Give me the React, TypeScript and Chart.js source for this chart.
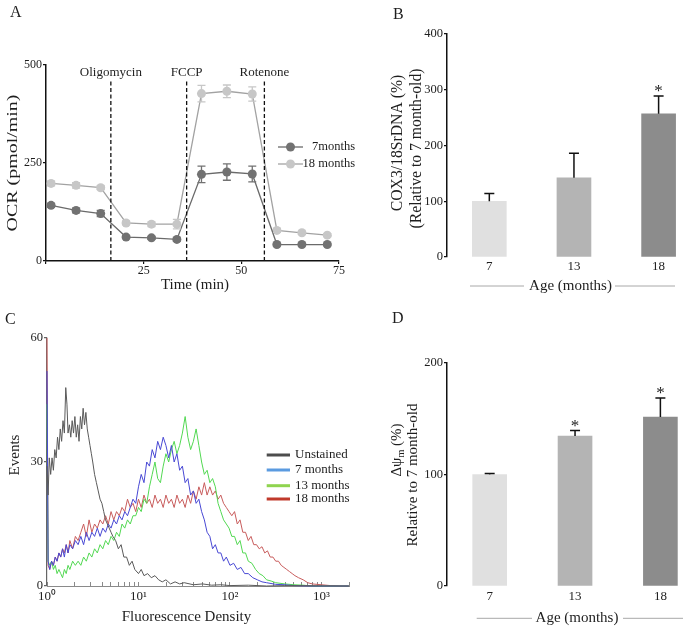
import React, { useEffect, useRef } from 'react';
import { Chart, registerables } from 'chart.js';

Chart.register(...registerables);

const SERIF = '"Liberation Serif", "Times New Roman", Times, serif';
const INK = '#1e1e1e';

// ---------------- Panel A : OCR time course ----------------
const timePoints = [1.3, 7.7, 14, 20.5, 27, 33.5, 39.8, 46.3, 52.8, 59.1, 65.5, 72];
const ocr7Months = [142, 129, 121, 61, 59, 55, 221, 227, 222, 42, 42, 42];
const ocr7MonthsErr = [5, 6, 8, 4, 4, 4, 21, 21, 20, 3, 3, 3];
const ocr18Months = [198, 193, 187, 97, 94, 94, 427, 433, 426, 78, 72, 66];
const ocr18MonthsErr = [6, 7, 5, 5, 6, 12, 21, 16, 18, 5, 4, 4];
const ocrSeriesNames = ['7months', '18 months'];
const injectionTimes = [16.6, 36, 55.9];
const injectionNames = ['Oligomycin', 'FCCP', 'Rotenone'];
const ocrXTicks = [0, 25, 50, 75];
const ocrYTicks = [0, 250, 500];

// ---------------- Panel B : COX3 / 18S rDNA ----------------
const ageCategories = ['7', '13', '18'];
const cox3Values = [100, 142, 257];
const cox3Err = [14, 44, 32];
const cox3Significant = [false, false, true];
const cox3YTicks = [0, 100, 200, 300, 400];

// ---------------- Panel C : TMRM histograms (decade, events) ----------------
const histNames = ['Unstained', '7 months', '13 months', '18 months'];
const unstainedCounts = [
  [0, 29], [0.012, 22], [0.025, 31], [0.04, 27], [0.055, 31], [0.07, 28], [0.085, 33], [0.1, 31],
  [0.115, 36], [0.13, 33], [0.145, 38], [0.16, 35], [0.175, 40], [0.19, 37], [0.205, 48], [0.218, 44],
  [0.23, 37], [0.245, 39], [0.26, 36], [0.275, 40], [0.29, 37], [0.305, 41], [0.32, 36], [0.335, 39],
  [0.35, 35], [0.365, 41], [0.38, 38], [0.395, 43], [0.41, 39], [0.425, 42], [0.44, 38], [0.455, 36],
  [0.47, 34], [0.485, 32], [0.5, 30], [0.52, 27], [0.54, 25], [0.56, 23], [0.58, 21], [0.6, 20],
  [0.62, 18], [0.64, 16], [0.66, 15], [0.68, 14], [0.7, 13], [0.72, 12], [0.75, 11], [0.78, 9],
  [0.81, 10], [0.84, 7], [0.87, 7], [0.9, 5], [0.93, 6], [0.96, 4], [1.0, 3], [1.03, 4],
  [1.06, 2.5], [1.1, 3], [1.14, 2], [1.18, 2.5], [1.22, 1.5], [1.26, 1], [1.3, 1.5], [1.35, 0.5],
  [1.4, 1], [1.45, 0.5], [1.5, 0.8], [1.6, 0.3], [1.7, 0.5], [1.8, 0.2], [1.9, 0.3], [2.0, 0.1],
  [2.2, 0.2], [2.4, 0], [2.6, 0.1], [3.3, 0],
];
const months7Counts = [
  [0, 52], [0.012, 6], [0.03, 4], [0.05, 6], [0.07, 5], [0.09, 7], [0.11, 6], [0.13, 8],
  [0.15, 7], [0.17, 9], [0.19, 7], [0.21, 10], [0.23, 8], [0.25, 10], [0.28, 9], [0.31, 11],
  [0.34, 10], [0.37, 12], [0.4, 10], [0.43, 13], [0.46, 11], [0.49, 13], [0.52, 12], [0.55, 14],
  [0.58, 12], [0.61, 14], [0.64, 13], [0.67, 15], [0.7, 14], [0.73, 16], [0.76, 15], [0.79, 17],
  [0.82, 16], [0.85, 18], [0.88, 17], [0.91, 19], [0.94, 21], [0.97, 20], [1.0, 24], [1.03, 27],
  [1.06, 25], [1.09, 30], [1.12, 29], [1.15, 33], [1.18, 31], [1.21, 35], [1.24, 33], [1.27, 36],
  [1.3, 34], [1.33, 31], [1.36, 34], [1.39, 30], [1.42, 32], [1.45, 28], [1.48, 29], [1.51, 25],
  [1.54, 26], [1.57, 22], [1.6, 23], [1.63, 20], [1.66, 21], [1.69, 18], [1.72, 16], [1.75, 13],
  [1.78, 12], [1.81, 9], [1.84, 10], [1.87, 8], [1.9, 8], [1.93, 6], [1.96, 7], [2.0, 5],
  [2.04, 5.5], [2.08, 4], [2.12, 4.5], [2.16, 3], [2.2, 3], [2.25, 2], [2.3, 1.5], [2.35, 1],
  [2.4, 0.8], [2.5, 0.4], [2.6, 0.3], [2.7, 0.1], [2.9, 0], [3.3, 0],
];
const months13Counts = [
  [0, 44], [0.012, 6], [0.03, 5], [0.05, 6], [0.07, 4], [0.09, 5], [0.11, 3], [0.13, 4],
  [0.15, 3], [0.17, 2], [0.19, 4], [0.21, 3], [0.23, 5], [0.25, 4], [0.28, 6], [0.31, 5],
  [0.34, 6], [0.37, 5], [0.4, 7], [0.43, 6], [0.46, 8], [0.49, 7], [0.52, 9], [0.55, 8],
  [0.58, 10], [0.61, 9], [0.64, 11], [0.67, 10], [0.7, 12], [0.73, 11], [0.76, 13], [0.79, 12],
  [0.82, 15], [0.85, 14], [0.88, 16], [0.91, 15], [0.94, 17], [0.97, 17], [1.0, 19], [1.03, 18],
  [1.06, 21], [1.09, 20], [1.12, 24], [1.15, 27], [1.18, 30], [1.21, 26], [1.24, 25], [1.27, 29],
  [1.3, 32], [1.33, 30], [1.36, 33], [1.39, 35], [1.42, 32], [1.45, 34], [1.48, 37], [1.51, 41],
  [1.54, 36], [1.57, 33], [1.6, 35], [1.63, 38], [1.66, 34], [1.69, 30], [1.72, 27], [1.75, 28],
  [1.78, 25], [1.81, 26], [1.84, 24], [1.87, 20], [1.9, 18], [1.93, 16], [1.96, 15], [1.99, 14],
  [2.02, 12], [2.05, 12], [2.08, 10], [2.11, 11], [2.14, 8], [2.17, 8], [2.2, 6], [2.24, 5.5],
  [2.28, 4], [2.32, 3], [2.36, 2.5], [2.4, 1.5], [2.45, 1.2], [2.5, 0.8], [2.6, 0.5], [2.7, 0.3],
  [2.8, 0.2], [2.9, 0], [3.3, 0],
];
const months18Counts = [
  [0, 60], [0.012, 5], [0.03, 4], [0.05, 6], [0.07, 5], [0.09, 7], [0.11, 6], [0.13, 8],
  [0.15, 7], [0.17, 9], [0.19, 8], [0.21, 10], [0.23, 8], [0.25, 11], [0.28, 9], [0.31, 12],
  [0.34, 11], [0.37, 13], [0.4, 15], [0.43, 12], [0.46, 16], [0.49, 13], [0.52, 15], [0.55, 14],
  [0.58, 16], [0.61, 15], [0.64, 17], [0.67, 15], [0.7, 18], [0.73, 16], [0.76, 18], [0.79, 17],
  [0.82, 19], [0.85, 18], [0.88, 21], [0.91, 19], [0.94, 20], [0.97, 18], [1.0, 21], [1.03, 19],
  [1.06, 22], [1.09, 20], [1.12, 21], [1.15, 19], [1.18, 22], [1.21, 20], [1.24, 21], [1.27, 19],
  [1.3, 22], [1.33, 20], [1.36, 21], [1.39, 19], [1.42, 22], [1.45, 20], [1.48, 21], [1.51, 19],
  [1.54, 22], [1.57, 20], [1.6, 23], [1.63, 21], [1.66, 24], [1.69, 22], [1.72, 25], [1.75, 22],
  [1.78, 24], [1.81, 22], [1.84, 23], [1.87, 21], [1.9, 22], [1.93, 20], [1.96, 19], [1.99, 18],
  [2.02, 17], [2.05, 18], [2.08, 15], [2.11, 16], [2.14, 13], [2.17, 13], [2.2, 11], [2.23, 12],
  [2.26, 10], [2.29, 10], [2.32, 9], [2.35, 9.5], [2.38, 8], [2.41, 8.5], [2.44, 7], [2.47, 7],
  [2.5, 6], [2.53, 6], [2.56, 5], [2.59, 4.5], [2.62, 4], [2.65, 3.5], [2.68, 3], [2.71, 2.5],
  [2.75, 2], [2.8, 1.5], [2.85, 0.8], [2.9, 0.5], [3.0, 0.3], [3.1, 0.1], [3.2, 0], [3.3, 0],
];
const histSeries = [unstainedCounts, months7Counts, months13Counts, months18Counts];
const histYTicks = [0, 30, 60];

// ---------------- Panel D : membrane potential ----------------
const dpsiValues = [100, 134.5, 151.6];
const dpsiErr = [0.8, 5, 17];
const dpsiSignificant = [false, true, true];
const dpsiYTicks = [0, 100, 200];

// ---------------- styles ----------------
const barColors = ['#e0e0e0', '#b4b4b4', '#8c8c8c'];
const ocrLineColors = ['#6a6a6a', '#a2a2a2'];
const ocrPointColors = ['#727272', '#c7c7c7'];
const histLineColors = ['#5a5a5a', '#4848d4', '#52d852', '#c85c5c'];
const histLegendColors = ['#4d4d4d', '#5b9be0', '#8fd44f', '#c0392b'];
const SUP = ['\u2070', '\u00b9', '\u00b2', '\u00b3'];

// ---------------- plugins ----------------
function drawText(ctx: CanvasRenderingContext2D, t: any) {
  ctx.save();
  ctx.translate(t.x, t.y);
  if (t.rotate) ctx.rotate(t.rotate);
  if (t.stretch) ctx.scale(t.stretch, 1);
  ctx.fillStyle = t.color || INK;
  ctx.textBaseline = 'middle';
  ctx.textAlign = 'left';
  const parts = t.parts || [{ text: t.text }];
  const fontOf = (p: any) => `${p.sub ? t.size * 0.68 : t.size}px ${SERIF}`;
  let total = 0;
  const widths = parts.map((p: any) => {
    ctx.font = fontOf(p);
    const w = ctx.measureText(p.text).width;
    total += w;
    return w;
  });
  let x = t.align === 'left' ? 0 : t.align === 'right' ? -total : -total / 2;
  parts.forEach((p: any, i: number) => {
    ctx.font = fontOf(p);
    ctx.fillText(p.text, x, p.sub ? t.size * 0.3 : 0);
    x += widths[i];
  });
  ctx.restore();
}

const overlayPlugin = {
  id: 'overlay',
  afterDraw(chart: any, _a: any, opts: any) {
    const ctx = chart.ctx;
    (opts.lines || []).forEach((l: any) => {
      ctx.save();
      ctx.strokeStyle = l.color || '#aaa';
      ctx.lineWidth = l.width || 1;
      ctx.beginPath();
      ctx.moveTo(l.x1, l.y1);
      ctx.lineTo(l.x2, l.y2);
      ctx.stroke();
      ctx.restore();
    });
    (opts.texts || []).forEach((t: any) => drawText(ctx, t));
  },
};

const errorBarPlugin = {
  id: 'errorBars',
  afterDatasetsDraw(chart: any, _a: any, opts: any) {
    const ctx = chart.ctx;
    const ys = chart.scales.y;
    chart.data.datasets.forEach((ds: any, di: number) => {
      if (!ds.errors) return;
      const meta = chart.getDatasetMeta(di);
      meta.data.forEach((el: any, i: number) => {
        const raw = ds.data[i];
        const v = typeof raw === 'number' ? raw : raw.y;
        const e = ds.errors[i];
        const yTop = ys.getPixelForValue(v + e);
        const yBot = ys.getPixelForValue(opts.upOnly ? v : v - e);
        ctx.save();
        ctx.strokeStyle = ds.errColor || opts.color || '#111';
        ctx.lineWidth = opts.width || 1.5;
        ctx.beginPath();
        ctx.moveTo(el.x, yBot);
        ctx.lineTo(el.x, yTop);
        ctx.moveTo(el.x - opts.cap, yTop);
        ctx.lineTo(el.x + opts.cap, yTop);
        if (!opts.upOnly) {
          ctx.moveTo(el.x - opts.cap, yBot);
          ctx.lineTo(el.x + opts.cap, yBot);
        }
        ctx.stroke();
        if (ds.stars && ds.stars[i]) {
          ctx.fillStyle = INK;
          ctx.font = `17px ${SERIF}`;
          ctx.textAlign = 'center';
          ctx.textBaseline = 'middle';
          ctx.fillText('*', el.x, yTop - 4);
        }
        ctx.restore();
      });
    });
  },
};

const injectionPlugin = {
  id: 'injections',
  afterDatasetsDraw(chart: any, _a: any, opts: any) {
    const ctx = chart.ctx;
    const xs = chart.scales.x;
    const area = chart.chartArea;
    opts.times.forEach((t: number, i: number) => {
      const px = xs.getPixelForValue(t);
      ctx.save();
      ctx.strokeStyle = '#111';
      ctx.lineWidth = 1.3;
      ctx.setLineDash([4, 2.5]);
      ctx.beginPath();
      ctx.moveTo(px, area.bottom);
      ctx.lineTo(px, area.top + 15);
      ctx.stroke();
      ctx.restore();
      drawText(ctx, { text: opts.names[i], x: px, y: area.top + 7.5, size: 13 });
    });
  },
};

const ocrLegendPlugin = {
  id: 'ocrLegend',
  afterDraw(chart: any, _a: any, opts: any) {
    const ctx = chart.ctx;
    chart.data.datasets.forEach((ds: any, i: number) => {
      const y = opts.ys[i];
      ctx.save();
      ctx.strokeStyle = ds.borderColor;
      ctx.lineWidth = 1.3;
      ctx.beginPath();
      ctx.moveTo(opts.x1, y);
      ctx.lineTo(opts.x2, y);
      ctx.stroke();
      ctx.fillStyle = ds.pointBackgroundColor;
      ctx.beginPath();
      ctx.arc((opts.x1 + opts.x2) / 2, y, 4.5, 0, Math.PI * 2);
      ctx.fill();
      ctx.restore();
      drawText(ctx, { text: ds.label, x: opts.textRight, y, size: 12.5, align: 'right' });
    });
  },
};

const histLegendPlugin = {
  id: 'histLegend',
  afterDraw(chart: any, _a: any, opts: any) {
    const ctx = chart.ctx;
    chart.data.datasets.forEach((ds: any, i: number) => {
      const y = opts.ys[i];
      ctx.save();
      ctx.strokeStyle = ds.legendColor;
      ctx.lineWidth = 3;
      ctx.beginPath();
      ctx.moveTo(opts.x1, y);
      ctx.lineTo(opts.x2, y);
      ctx.stroke();
      ctx.restore();
      drawText(ctx, { text: ds.label, x: opts.textX, y, size: 13, align: 'left' });
    });
  },
};

const setTicks = (values: number[]) => (s: any) => {
  s.ticks = values.map((v) => ({ value: v }));
};
const font = (size: number) => ({ family: SERIF, size });

function baseOptions(padding: any, texts: any[], lines: any[] = []) {
  return {
    responsive: false,
    animation: false,
    devicePixelRatio: 1,
    events: [],
    layout: { padding },
    plugins: {
      legend: { display: false },
      tooltip: { enabled: false },
      overlay: { texts, lines },
    },
  };
}

// ---------------- chart configs ----------------
function makeA() {
  const opts: any = baseOptions({ top: 65, right: 21, bottom: 0, left: 0 }, [
    { text: 'A', x: 10, y: 13, size: 16, align: 'left' },
    { text: 'OCR (pmol/min)', x: 13.5, y: 163, size: 15, rotate: -Math.PI / 2, stretch: 1.33 },
    { text: 'Time (min)', x: 195, y: 285.5, size: 15 },
  ]);
  opts.plugins.errorBars = { cap: 4, width: 1.3, upOnly: false };
  opts.plugins.injections = { times: injectionTimes, names: injectionNames };
  opts.plugins.ocrLegend = { ys: [147, 164], x1: 278, x2: 303, textRight: 355 };
  opts.scales = {
    x: {
      type: 'linear', min: 0, max: 75,
      afterBuildTicks: setTicks(ocrXTicks),
      afterFit: (s: any) => { s.height = 39; },
      grid: { drawOnChartArea: false, drawTicks: true, tickLength: 3, color: '#111', lineWidth: 1.2 },
      border: { display: true, color: '#111', width: 1.5 },
      ticks: { font: font(12), color: INK, padding: 0, maxRotation: 0, autoSkip: false,
        callback: (v: number) => (v === 0 ? '' : String(v)) },
    },
    y: {
      min: 0, max: 500,
      afterBuildTicks: setTicks(ocrYTicks),
      afterFit: (s: any) => { s.width = 46; },
      grid: { drawOnChartArea: false, drawTicks: true, tickLength: 3, color: '#111', lineWidth: 1.2 },
      border: { display: true, color: '#111', width: 1.5 },
      ticks: { font: font(12), color: INK, padding: 1 },
    },
  };
  const series = [ocr7Months, ocr18Months];
  const errs = [ocr7MonthsErr, ocr18MonthsErr];
  return {
    type: 'line',
    data: {
      datasets: series.map((s, k) => ({
        label: ocrSeriesNames[k],
        data: s.map((y, i) => ({ x: timePoints[i], y })),
        borderColor: ocrLineColors[k],
        backgroundColor: ocrPointColors[k],
        pointBackgroundColor: ocrPointColors[k],
        pointBorderWidth: 0,
        pointRadius: 4.5,
        borderWidth: 1.3,
        tension: 0,
        errors: errs[k],
        errColor: ocrPointColors[k],
      })),
    },
    options: opts,
    plugins: [overlayPlugin, injectionPlugin, errorBarPlugin, ocrLegendPlugin],
  };
}

function makeBars(values: number[], errors: number[], stars: boolean[], yTicks: number[], yMax: number,
  padding: any, xHeight: number, xPad: number, texts: any[], lines: any[]) {
  const opts: any = baseOptions(padding, texts, lines);
  opts.plugins.errorBars = { cap: 5, width: 1.5, upOnly: true, color: '#111' };
  opts.scales = {
    x: {
      type: 'linear', min: -0.5, max: 2.3, offset: false,
      afterBuildTicks: setTicks([0, 1, 2]),
      afterFit: (s: any) => { s.height = xHeight; },
      grid: { display: false, drawTicks: false, offset: false },
      border: { display: false },
      ticks: { font: font(13), color: INK, padding: xPad, maxRotation: 0, autoSkip: false,
        callback: (v: number) => ageCategories[v] ?? '' },
    },
    y: {
      min: 0, max: yMax,
      afterBuildTicks: setTicks(yTicks),
      afterFit: (s: any) => { s.width = 77; },
      grid: { drawOnChartArea: false, drawTicks: true, tickLength: 3, color: '#111', lineWidth: 1.3 },
      border: { display: true, color: '#111', width: 1.5 },
      ticks: { font: font(12.5), color: INK, padding: 1 },
    },
  };
  return {
    type: 'bar',
    data: {
      datasets: [{
        data: values.map((y, i) => ({ x: i, y })),
        backgroundColor: barColors,
        borderWidth: 0,
        barThickness: 34,
        errors,
        stars,
      }],
    },
    options: opts,
    plugins: [overlayPlugin, errorBarPlugin],
  };
}

function makeB() {
  return makeBars(cox3Values, cox3Err, cox3Significant, cox3YTicks, 400,
    { top: 34, right: 7, bottom: 0, left: 0 }, 43, 2.2,
    [
      { text: 'B', x: 23, y: 15, size: 16, align: 'left' },
      { text: 'COX3/18SrDNA (%)', x: 28, y: 143, size: 15.7, rotate: -Math.PI / 2 },
      { text: '(Relative to 7 month-old)', x: 47, y: 148.5, size: 15.7, rotate: -Math.PI / 2 },
      { text: 'Age (months)', x: 200.5, y: 286, size: 15 },
    ],
    [
      { x1: 100, y1: 286, x2: 154, y2: 286, color: '#a8a8a8' },
      { x1: 245, y1: 286, x2: 305, y2: 286, color: '#a8a8a8' },
    ]);
}

function makeD() {
  return makeBars(dpsiValues, dpsiErr, dpsiSignificant, dpsiYTicks, 200,
    { top: 63, right: 5, bottom: 0, left: 0 }, 51, 3.2,
    [
      { text: 'D', x: 22, y: 19, size: 16, align: 'left' },
      { parts: [{ text: '\u0394\u03c8' }, { text: 'm', sub: true }, { text: ' (%)' }], x: 26.7, y: 150, size: 15, rotate: -Math.PI / 2 },
      { text: 'Relative to 7 month-old', x: 43.3, y: 175, size: 15, rotate: -Math.PI / 2 },
      { text: 'Age (months)', x: 207, y: 318.3, size: 15 },
    ],
    [
      { x1: 106.7, y1: 318.3, x2: 162, y2: 318.3, color: '#a8a8a8' },
      { x1: 253, y1: 318.3, x2: 313, y2: 318.3, color: '#a8a8a8' },
    ]);
}

function makeC() {
  const opts: any = baseOptions({ top: 38, right: 11, bottom: 0, left: 0 }, [
    { text: 'C', x: 5, y: 19.5, size: 16, align: 'left' },
    { text: 'Events', x: 15, y: 155, size: 15, rotate: -Math.PI / 2 },
    { text: 'Fluorescence Density', x: 186.5, y: 317, size: 15 },
  ]);
  opts.plugins.histLegend = { ys: [155, 170, 185.7, 199], x1: 266.7, x2: 290, textX: 295 };
  const logTicks: number[] = [];
  for (let d = 0; d < 4; d++) {
    for (let m = 1; m < 10; m++) {
      const v = m * Math.pow(10, d);
      if (v <= 2000) logTicks.push(v);
    }
  }
  opts.scales = {
    x: {
      type: 'logarithmic', min: 1, max: 2000,
      afterBuildTicks: setTicks(logTicks),
      afterFit: (s: any) => { s.height = 51; },
      grid: { drawOnChartArea: false, drawTicks: true, tickLength: -4, color: '#8a8a8a', lineWidth: 1 },
      border: { display: true, color: '#8a8a8a', width: 1 },
      ticks: { font: font(13), color: INK, padding: 7, maxRotation: 0, autoSkip: false,
        callback: (v: number) => {
          const l = Math.log10(v);
          const r = Math.round(l);
          return Math.abs(l - r) < 1e-9 ? '10' + SUP[r] : '';
        } },
    },
    y: {
      min: 0, max: 60,
      afterBuildTicks: setTicks(histYTicks),
      afterFit: (s: any) => { s.width = 47; },
      grid: { drawOnChartArea: false, drawTicks: true, tickLength: 3, color: '#666', lineWidth: 1.2 },
      border: { display: true, color: '#666', width: 1.2 },
      ticks: { font: font(12.5), color: INK, padding: 1 },
    },
  };
  return {
    type: 'line',
    data: {
      datasets: histSeries.map((s, k) => ({
        label: histNames[k],
        data: s.map(([d, c]) => ({ x: Math.pow(10, d), y: c })),
        borderColor: histLineColors[k],
        legendColor: histLegendColors[k],
        borderWidth: 1,
        pointRadius: 0,
        tension: 0,
        clip: 3,
      })),
    },
    options: opts,
    plugins: [overlayPlugin, histLegendPlugin],
  };
}

function Panel({ left, top, width, height, make }: any) {
  const ref = useRef<HTMLCanvasElement>(null);
  useEffect(() => {
    const chart = new Chart(ref.current as HTMLCanvasElement, make());
    return () => chart.destroy();
  }, []);
  return (
    <div style={{ position: 'absolute', left, top, width, height }}>
      <canvas ref={ref} width={width} height={height} style={{ display: 'block', width, height }} />
    </div>
  );
}

export default function App() {
  return (
    <div style={{ position: 'fixed', left: 0, top: 0, width: 691, height: 637, background: '#fff', overflow: 'hidden' }}>
      <Panel left={0} top={0} width={360} height={300} make={makeA} />
      <Panel left={370} top={0} width={321} height={300} make={makeB} />
      <Panel left={0} top={300} width={360} height={337} make={makeC} />
      <Panel left={370} top={300} width={321} height={337} make={makeD} />
    </div>
  );
}
